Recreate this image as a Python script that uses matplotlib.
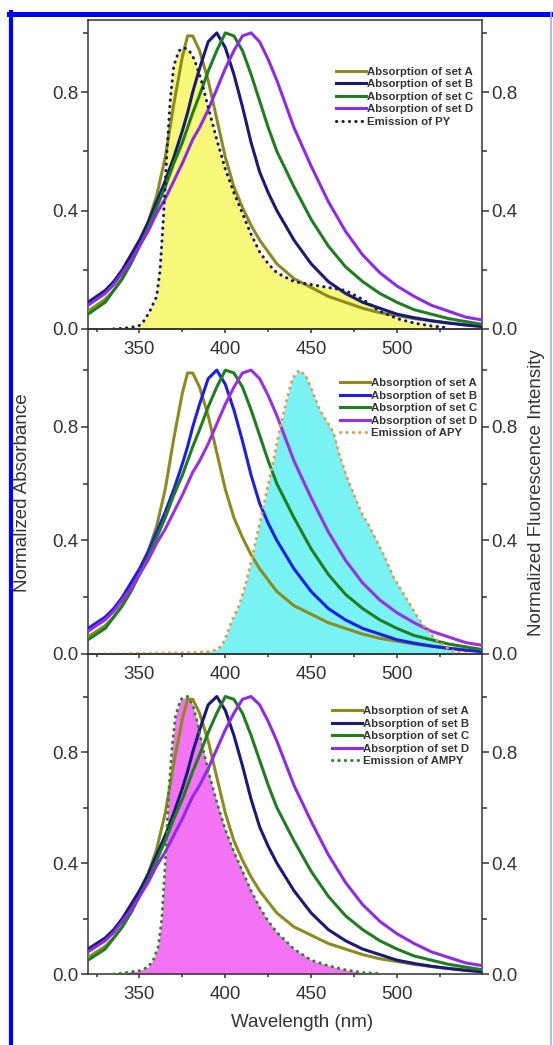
import matplotlib
matplotlib.use('Agg')
import matplotlib.pyplot as plt
from matplotlib.lines import Line2D
from matplotlib.ticker import FixedLocator

plt.rcParams['font.family'] = ['Liberation Sans', 'DejaVu Sans']

# Absorption spectra (same four sets in every panel)
wl_abs = [320, 325, 330, 335, 340, 345, 350, 355, 360, 365, 370, 375, 378, 381, 385, 390, 395,
          400, 405, 410, 415, 420, 425, 430, 440, 450, 460, 470, 480, 490, 500, 510, 520,
          530, 540, 550]
abs_A = [0.06, 0.08, 0.10, 0.13, 0.17, 0.23, 0.29, 0.36, 0.45, 0.58, 0.76, 0.92, 0.99, 0.99,
         0.94, 0.84, 0.71, 0.58, 0.48, 0.41, 0.35, 0.30, 0.26, 0.22, 0.17, 0.14, 0.11, 0.09,
         0.07, 0.055, 0.045, 0.035, 0.027, 0.02, 0.015, 0.01]
abs_B = [0.09, 0.11, 0.13, 0.16, 0.20, 0.25, 0.30, 0.36, 0.43, 0.50, 0.58, 0.67, 0.73, 0.80,
         0.88, 0.97, 1.00, 0.95, 0.86, 0.75, 0.63, 0.53, 0.46, 0.40, 0.30, 0.22, 0.16, 0.12,
         0.09, 0.07, 0.05, 0.038, 0.028, 0.02, 0.013, 0.008]
abs_C = [0.05, 0.07, 0.09, 0.13, 0.17, 0.22, 0.28, 0.34, 0.41, 0.48, 0.56, 0.63, 0.68, 0.73,
         0.79, 0.87, 0.94, 1.00, 0.99, 0.94, 0.86, 0.77, 0.68, 0.60, 0.48, 0.37, 0.28, 0.21,
         0.16, 0.12, 0.09, 0.065, 0.05, 0.035, 0.025, 0.015]
abs_D = [0.08, 0.10, 0.12, 0.15, 0.19, 0.23, 0.28, 0.33, 0.39, 0.44, 0.50, 0.56, 0.60, 0.64,
         0.68, 0.74, 0.81, 0.88, 0.94, 0.99, 1.00, 0.97, 0.91, 0.84, 0.68, 0.55, 0.43, 0.33,
         0.25, 0.19, 0.145, 0.11, 0.08, 0.06, 0.04, 0.03]
abs_labels = ['Absorption of set A', 'Absorption of set B', 'Absorption of set C', 'Absorption of set D']

# Emission spectra
wl_py = [335, 340, 345, 350, 353, 356, 360, 362, 364, 366, 368, 370, 373, 376, 379, 382, 386,
         390, 395, 400, 405, 410, 415, 420, 425, 430, 440, 450, 460, 470, 480, 490, 500, 510,
         520, 530]
em_py = [0.0, 0.002, 0.005, 0.012, 0.03, 0.06, 0.11, 0.2, 0.38, 0.6, 0.78, 0.89, 0.94, 0.95,
         0.94, 0.91, 0.84, 0.75, 0.64, 0.54, 0.46, 0.39, 0.32, 0.26, 0.22, 0.19, 0.16, 0.15,
         0.14, 0.13, 0.10, 0.06, 0.035, 0.02, 0.01, 0.004]

wl_apy = [330, 340, 350, 360, 370, 380, 390, 395, 398, 401, 404, 408, 412, 416, 420, 424, 428,
          432, 436, 439, 443, 447, 451, 455, 459, 463, 467, 471, 475, 479, 483, 488, 493, 498,
          503, 508, 513, 518, 523, 528, 533, 538, 543]
em_apy = [0.0, 0.0, 0.002, 0.003, 0.004, 0.005, 0.008, 0.015, 0.03, 0.07, 0.12, 0.17, 0.25,
          0.35, 0.46, 0.57, 0.68, 0.8, 0.9, 0.97, 1.0, 0.98, 0.92, 0.86, 0.82, 0.78, 0.69,
          0.62, 0.56, 0.5, 0.46, 0.4, 0.34, 0.27, 0.22, 0.17, 0.12, 0.08, 0.05, 0.025, 0.01,
          0.003, 0.0]

wl_ampy = [335, 340, 345, 350, 355, 358, 361, 363, 365, 367, 369, 371, 374, 378, 381, 384, 387,
           391, 395, 400, 405, 410, 415, 420, 425, 430, 435, 440, 445, 450, 460, 470, 480, 490]
em_ampy = [0.0, 0.003, 0.008, 0.012, 0.025, 0.05, 0.1, 0.2, 0.4, 0.65, 0.82, 0.93, 0.99, 1.0,
           0.97, 0.9, 0.81, 0.71, 0.62, 0.52, 0.44, 0.37, 0.3, 0.24, 0.19, 0.15, 0.12, 0.09,
           0.07, 0.05, 0.03, 0.015, 0.005, 0.002]

x_ticks = [350, 400, 450, 500]
x_minor = [325, 375, 425, 475, 525]
y_ticks = [0.0, 0.4, 0.8]
y_minor = [0.2, 0.6, 1.0]

panels = [
    dict(rect=[0.1591, 0.6852, 0.7125, 0.2952], ytop=1.042,
         colors=['#8c8c1e', '#1a1a78', '#1f7f1f', '#8f2be8'],
         wl_em=wl_py, em=em_py, em_label='Emission of PY', em_color='#1a1a60', fill='#f7f77a',
         leg=(0.615, 0.868)),
    dict(rect=[0.1591, 0.3742, 0.7125, 0.3110], ytop=1.145,
         colors=['#8c8c1e', '#1e1ee6', '#1f7f1f', '#9b30e0'],
         wl_em=wl_apy, em=em_apy, em_label='Emission of APY', em_color='#e0a050', fill='#78f2f2',
         leg=(0.625, 0.866)),
    dict(rect=[0.1591, 0.0679, 0.7125, 0.3062], ytop=1.153,
         colors=['#8c8c1e', '#1a1a78', '#1f7f1f', '#8f2be8'],
         wl_em=wl_ampy, em=em_ampy, em_label='Emission of AMPY', em_color='#2a852a', fill='#f472f4',
         leg=(0.605, 0.855)),
]

fig = plt.figure(figsize=(5.53, 10.45), dpi=100)
text_col = '#333333'

for p in panels:
    ax = fig.add_axes(p['rect'])
    ax.set_facecolor('none')
    # emission filled area underneath
    ax.fill_between(p['wl_em'], p['em'], 0, color=p['fill'], lw=0, zorder=1)
    for vals, col, lab in zip([abs_A, abs_B, abs_C, abs_D], p['colors'], abs_labels):
        ax.plot(wl_abs, vals, color=col, lw=2.2, label=lab, zorder=3)
    ax.plot(p['wl_em'], p['em'], color=p['em_color'], lw=2.2, linestyle=(0, (0.1, 2.0)),
            dash_capstyle='round', label=p['em_label'], zorder=4)

    ax.set_xlim(320, 549.5)
    ax.set_ylim(0, p['ytop'])
    ax.xaxis.set_major_locator(FixedLocator(x_ticks))
    ax.xaxis.set_minor_locator(FixedLocator(x_minor))
    ax.yaxis.set_major_locator(FixedLocator(y_ticks))
    ax.yaxis.set_minor_locator(FixedLocator(y_minor))
    ax.set_yticklabels(['0.0', '0.4', '0.8'])
    ax.yaxis.set_ticks_position('both')
    ax.tick_params(axis='y', which='major', direction='out', length=5, width=1.1, pad=2,
                   labelsize=13.5, labelcolor=text_col, color=text_col, labelright=True)
    ax.tick_params(axis='y', which='minor', direction='out', length=3.5, width=1.1, color=text_col)
    ax.tick_params(axis='x', which='major', direction='out', length=3, width=1.1, pad=5.5,
                   labelsize=13.5, labelcolor=text_col, color=text_col)
    ax.tick_params(axis='x', which='minor', direction='out', length=2.5, width=1.1, color=text_col)
    for s in ax.spines.values():
        s.set_color(text_col)
        s.set_linewidth(1.1)

    leg = ax.legend(loc='upper left', bbox_to_anchor=p['leg'], frameon=False, borderpad=0,
                    handlelength=2.6, handletextpad=0.1, labelspacing=0.22,
                    prop={'size': 8.2, 'weight': 'bold'})
    for t in leg.get_texts():
        t.set_color(text_col)

fig.text(0.040, 0.529, 'Normalized Absorbance', rotation=90, ha='center', va='center',
         fontsize=13.5, color=text_col)
fig.text(0.971, 0.529, 'Normalized Fluorescence Intensity', rotation=90, ha='center',
         va='center', fontsize=13.5, color=text_col)
fig.text(0.547, 0.022, 'Wavelength (nm)', ha='center', va='center', fontsize=13.5,
         color=text_col)

# blue frame around the figure
fig.add_artist(Line2D([11 / 553, 11 / 553], [0, 1 - 12 / 1045], color='#0000ff', lw=3.0,
                      transform=fig.transFigure))
fig.add_artist(Line2D([9 / 553, 1], [1 - 13.5 / 1045, 1 - 13.5 / 1045], color='#0000ff', lw=3.6,
                      transform=fig.transFigure))
fig.add_artist(Line2D([550.5 / 553, 550.5 / 553], [0, 1 - 12 / 1045], color='#a8a8ff', lw=1.2,
                      transform=fig.transFigure))

fig.savefig('out.png', dpi=100)
